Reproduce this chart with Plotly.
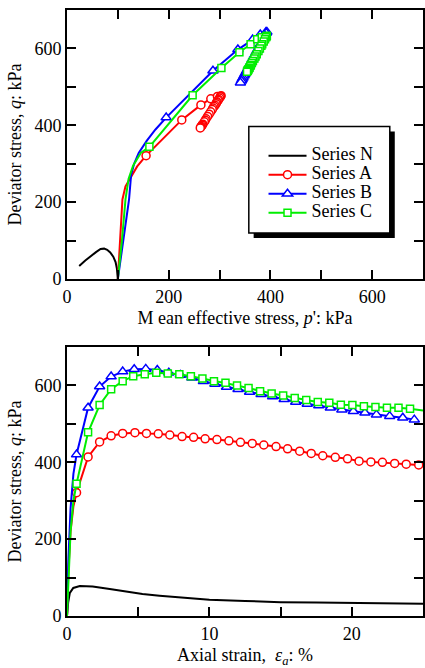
import plotly.graph_objects as go

# ---------------- data ----------------
# Series N : stress path (p', q) and q vs axial strain
n_p = [100, 99.5, 98, 95.5, 91, 85, 79, 73, 66, 57, 47, 36, 24]
n_q = [0, 12, 28, 44, 58, 69, 76, 79, 78, 70, 60, 48, 34]
n_eps = [0, 0.08, 0.2, 0.44, 0.9, 1.8, 3.0, 4.15, 5.3, 6.5, 7.6, 10, 12.5, 15, 17.5, 20, 22.5, 25]
n_qe = [0, 35, 60, 73, 78, 77, 70, 63.5, 57.5, 53, 49, 42, 39, 36, 35, 34, 33, 32]

# Series A (marker points)
a_eps = [0.67, 1.48, 2.29, 3.10, 3.91, 4.77, 5.58, 6.41, 7.22, 8.08, 8.89, 9.70, 10.53, 11.37, 12.18,
         13.01, 13.82, 14.68, 15.49, 16.34, 17.15, 17.96, 18.84, 19.70, 20.51, 21.34, 22.15, 23.01, 23.82, 24.70]
a_q = [321, 414, 453, 469, 475, 477, 475, 474, 471, 467, 465, 461, 459, 456, 452,
       449, 445, 441, 435, 429, 423, 417, 413, 409, 403, 401, 400, 397, 395, 393]
a_p = [155.5, 225.7, 263.3, 282.8, 295.8, 303, 302, 301.5, 300, 298, 297, 295, 294, 293, 291,
       289, 287, 285.5, 282.5, 279.5, 276.5, 273.5, 272, 270, 267, 266, 265.5, 264, 263, 262]
# Series A initial part (before the first marker)
a_p0 = [100, 103, 106, 109, 115, 124, 138, 155.5]
a_q0 = [0, 60, 140, 207, 241, 262, 293, 321]
a_eps0 = [0, 0.1, 0.25, 0.45, 0.67]
a_qe0 = [0, 120, 220, 285, 321]

# Series B
b_eps = [0.67, 1.48, 2.29, 3.10, 3.91, 4.72, 5.53, 6.34, 7.15, 7.96, 8.77, 9.58, 10.39, 11.20, 12.01,
         12.82, 13.63, 14.44, 15.25, 16.06, 16.87, 17.68, 18.49, 19.30, 20.11, 20.92, 21.73, 22.66, 23.58, 24.39]
b_q = [420, 542, 597, 623, 636, 642, 643, 640, 633, 627, 620, 611, 604, 596, 590,
       583, 577, 571, 564, 557, 552, 548, 542, 537, 533, 529, 524, 520, 516, 511]
b_p = [195, 287, 336, 365, 380, 391, 393, 391.8, 389, 386.7, 384, 380.4, 377.6, 374.5, 372,
       369.4, 367, 364.6, 361.9, 359, 357, 355.6, 353.2, 351.2, 349.7, 348.1, 346.1, 344.5, 343, 341]
b_p0 = [100, 111, 122, 126, 132, 141, 157, 174, 195]
b_q0 = [0, 100, 207, 270, 300, 328, 360, 389, 420]
b_eps0 = [0, 0.1, 0.25, 0.45, 0.67]
b_qe0 = [0, 150, 280, 370, 420]

# Series C
c_eps = [0.67, 1.48, 2.29, 3.10, 3.91, 4.65, 5.46, 6.27, 7.08, 7.89, 8.70, 9.51, 10.32, 11.13, 11.94,
         12.75, 13.56, 14.37, 15.18, 15.99, 16.80, 17.61, 18.42, 19.23, 20.04, 20.85, 21.66, 22.47, 23.28, 24.09]
c_q = [344, 478, 549, 590, 611, 624, 629, 633, 631, 629, 624, 618, 611, 607, 600,
       593, 585, 579, 574, 567, 562, 557, 555, 550, 549, 546, 544, 542, 542, 539]
c_p = [162, 247, 303.6, 339, 361, 374, 383, 393, 392.2, 391.4, 389.3, 386.8, 383.9, 382.2, 379.3,
       376.4, 373.1, 370.6, 368.5, 365.6, 363.5, 361.5, 360.6, 358.6, 358.2, 356.9, 356.1, 355.2, 355.2, 354]
c_p0 = [100, 108, 115, 121, 130, 145, 162]
c_q0 = [0, 100, 207, 260, 295, 328, 344]
c_eps0 = [0, 0.1, 0.25, 0.45, 0.67]
c_qe0 = [0, 110, 220, 300, 344]
c_eps_tail = [24.09, 25]
c_qe_tail = [539, 535]

series_names = ["Series N", "Series A", "Series B", "Series C"]

# tick labels
p_ticks = [0, 200, 400, 600]
q_ticks = [0, 200, 400, 600]
eps_ticks = [0, 10, 20]

FONT = "Liberation Serif"
RED, BLUE, GREEN, BLACK = "#FF0000", "#0000FF", "#00EE00", "#000000"
LW = 2

def leg_name(s):
    # legend row height follows the legend font (12px); the text itself is 18px
    return '<span style="font-size:18px">%s</span>' % s

fig = go.Figure()

def line_only(x, y, color, xa, ya):
    fig.add_trace(go.Scatter(x=x, y=y, mode="lines", line=dict(color=color, width=LW),
                             showlegend=False, hoverinfo="skip", xaxis=xa, yaxis=ya))

def with_markers(x, y, color, symbol, size, name, xa, ya, legend):
    fig.add_trace(go.Scatter(x=x, y=y, mode="lines+markers", name=leg_name(name),
                             line=dict(color=color, width=LW),
                             marker=dict(symbol=symbol, size=size, color="white",
                                         line=dict(color=color, width=1.5)),
                             showlegend=legend, xaxis=xa, yaxis=ya))

# ---- top panel ----
fig.add_trace(go.Scatter(x=n_p, y=n_q, mode="lines", name=leg_name(series_names[0]),
                         line=dict(color=BLACK, width=LW), xaxis="x", yaxis="y"))
line_only(a_p0, a_q0, RED, "x", "y")
with_markers(a_p, a_q, RED, "circle", 8, series_names[1], "x", "y", True)
line_only(b_p0, b_q0, BLUE, "x", "y")
with_markers(b_p, b_q, BLUE, "triangle-up", 9, series_names[2], "x", "y", True)
line_only(c_p0, c_q0, GREEN, "x", "y")
with_markers(c_p, c_q, GREEN, "square", 7, series_names[3], "x", "y", True)

# ---- bottom panel ----
fig.add_trace(go.Scatter(x=n_eps, y=n_qe, mode="lines", line=dict(color=BLACK, width=LW),
                         showlegend=False, xaxis="x2", yaxis="y2"))
line_only(a_eps0, a_qe0, RED, "x2", "y2")
with_markers(a_eps, a_q, RED, "circle", 8, series_names[1], "x2", "y2", False)
line_only(b_eps0, b_qe0, BLUE, "x2", "y2")
with_markers(b_eps, b_q, BLUE, "triangle-up", 9, series_names[2], "x2", "y2", False)
line_only(c_eps0, c_qe0, GREEN, "x2", "y2")
line_only(c_eps_tail, c_qe_tail, GREEN, "x2", "y2")
with_markers(c_eps, c_q, GREEN, "square", 7, series_names[3], "x2", "y2", False)

tickfont = dict(family=FONT, size=18, color="black")
common = dict(showline=True, linecolor="black", linewidth=2, mirror="ticks",
              ticks="inside", ticklen=9, tickwidth=2, tickcolor="black",
              showgrid=False, zeroline=False, tickfont=tickfont)

fig.update_layout(
    width=425, height=668,
    margin=dict(l=67, r=0, t=10, b=52),
    paper_bgcolor="white", plot_bgcolor="white",
    font=dict(family=FONT, size=18, color="black"),
    xaxis=dict(domain=[0, 1], anchor="y", range=[0, 700], tickvals=p_ticks,
               minor=dict(dtick=100, ticks="inside", ticklen=9, tickwidth=2, tickcolor="black"),
               title=dict(text="M ean effective stress, <i>p</i>': kPa", font=tickfont, standoff=6),
               **common),
    yaxis=dict(domain=[0.5561, 1], anchor="x", range=[0, 700], tickvals=q_ticks,
               minor=dict(dtick=100, ticks="inside", ticklen=9, tickwidth=2, tickcolor="black"),
               title=dict(text="Deviator stress, <i>q</i>: kPa", font=tickfont, standoff=8),
               **common),
    xaxis2=dict(domain=[0, 1], anchor="y2", range=[0, 25], tickvals=eps_ticks,
                minor=dict(dtick=5, ticks="inside", ticklen=9, tickwidth=2, tickcolor="black"),
                title=dict(text="Axial strain,  <i>ε</i><sub><i>a</i></sub>: %", font=tickfont, standoff=6),
                **common),
    yaxis2=dict(domain=[0, 0.4439], anchor="x2", range=[0, 700], tickvals=q_ticks,
                minor=dict(dtick=100, ticks="inside", ticklen=9, tickwidth=2, tickcolor="black"),
                title=dict(text="Deviator stress, <i>q</i>: kPa", font=tickfont, standoff=8),
                **common),
    legend=dict(x=0.552, y=0.7835, xanchor="left", yanchor="top",
                bgcolor="rgba(0,0,0,0)", borderwidth=0, itemwidth=38,
                font=dict(family=FONT, size=12, color="black")),
    shapes=[
        dict(type="rect", xref="x", yref="y", x0=367, x1=644.5, y0=106.8, y1=383.8,
             fillcolor="black", line=dict(width=0), layer="below"),
        dict(type="rect", xref="x", yref="y", x0=357.5, x1=634.7, y0=119.9, y1=396.8,
             fillcolor="white", line=dict(color="black", width=1.5), layer="below"),
    ],
)

fig.write_html("out.html", config={"displayModeBar": False},
               post_script="document.body.style.margin='0';")
